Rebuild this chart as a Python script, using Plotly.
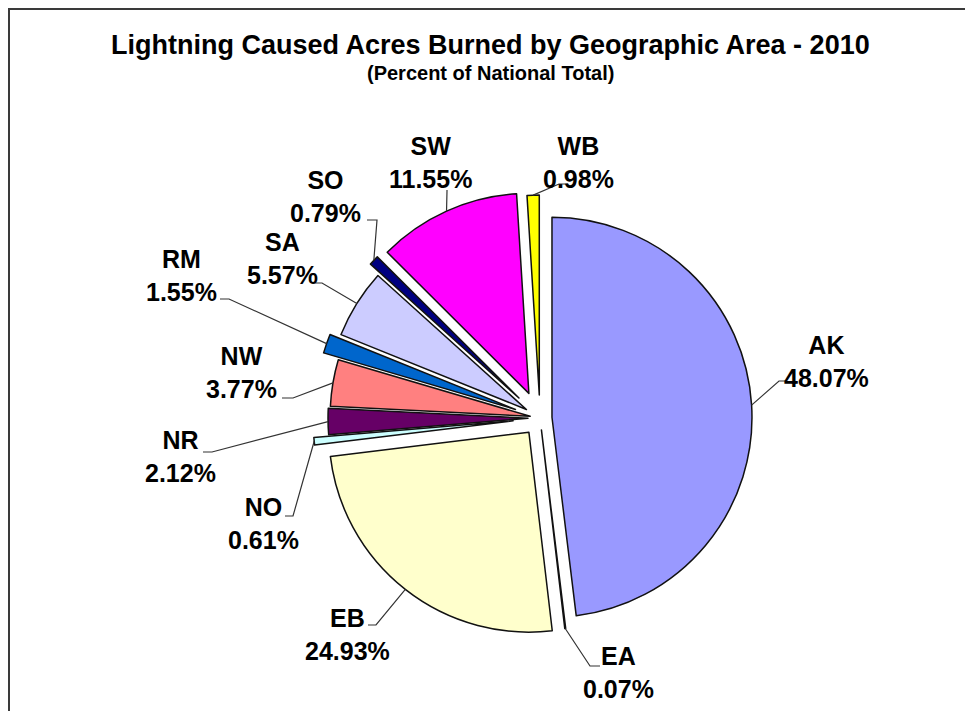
import math
import plotly.graph_objects as go

# ---------------- data ----------------
areas = ["AK", "EA", "EB", "NO", "NR", "NW", "RM", "SA", "SO", "SW", "WB"]
percents = [48.07, 0.07, 24.93, 0.61, 2.12, 3.77, 1.55, 5.57, 0.79, 11.55, 0.98]
title_text = "Lightning Caused Acres Burned by Geographic Area - 2010"
subtitle_text = "(Percent of National Total)"

# ---------------- style ----------------
colors = ["#9999FF", "#993366", "#FFFFCC", "#CCFFFF", "#660066", "#FF8080",
          "#0066CC", "#CCCCFF", "#000080", "#FF00FF", "#FFFF00"]
pulls = [0.06, 0.06, 0.09, 0.135, 0.06, 0.05, 0.13, 0.08, 0.145, 0.135, 0.115]

PAGE_OFF = 8            # default body margin of the html page
W, H = 973 - 2 * PAGE_OFF, 719 - 2 * PAGE_OFF   # avoid scrollbars
FONT = "Liberation Sans, Arial, sans-serif"

# pie geometry (page pixels)
cx_px, cy_px = 540, 418
box_px = 458
max_pull = max(pulls)
r_px = box_px / 2 / (1 + max_pull)

def px(x):
    return (x - PAGE_OFF) / W

def py(y):
    return 1 - (y - PAGE_OFF) / H

# label text centres (page pixels) and leader stub points (page pixels)
label_pos = {
    "AK": (826, 361), "EA": (618, 672), "EB": (347, 634), "NO": (263, 523),
    "NR": (180, 456), "NW": (241, 372), "RM": (181, 275), "SA": (282, 258),
    "SO": (325, 197), "SW": (430, 162), "WB": (578, 162),
}
stubs = {
    "AK": [(787, 381), (779, 381)], "EA": [(600, 666), (590, 666)],
    "EB": [(368, 625), (376, 625)], "NO": [(285, 516), (293, 516)],
    "NR": [(203, 452), (212, 452)], "NW": [(282, 398), (293, 398)],
    "RM": [(220, 299), (229, 299)], "SA": [(313, 283), (322, 283)],
    "SO": [(367, 220), (377, 220)], "SW": [(447, 190), (447, 191)],
    "WB": [(568, 184), (559, 184)],
}

fig = go.Figure()
fig.add_trace(go.Pie(
    labels=areas,
    values=percents,
    sort=False,
    direction="clockwise",
    rotation=0,
    pull=pulls,
    marker=dict(colors=colors, line=dict(color="#111111", width=1.5)),
    textinfo="none",
    hovertemplate="%{label}: %{value:.2f}%<extra></extra>",
    showlegend=False,
    domain=dict(
        x=[px(cx_px - box_px / 2), px(cx_px + box_px / 2)],
        y=[py(cy_px + box_px / 2), py(cy_px - box_px / 2)],
    ),
))

# leader lines + labels derived from slice angles
total = sum(percents)
cum = 0.0
shapes = []
annotations = []
for name, val, pull in zip(areas, percents, pulls):
    mid = (cum + val / 2) / total * 2 * math.pi
    cum += val
    dx, dy = math.sin(mid), -math.cos(mid)  # screen direction (y down)
    dist = r_px * (1 + pull)
    ax_, ay_ = cx_px + dist * dx, cy_px + dist * dy
    (s0x, s0y), (s1x, s1y) = stubs[name]
    path = (f"M {px(s0x)},{py(s0y)} L {px(s1x)},{py(s1y)} "
            f"L {px(ax_)},{py(ay_)}")
    shapes.append(dict(type="path", xref="paper", yref="paper", path=path,
                       line=dict(color="#333333", width=1.2)))
    lx, ly = label_pos[name]
    annotations.append(dict(
        x=px(lx), y=py(ly), xref="paper", yref="paper",
        text=f"<b>{name}<br>{val:.2f}%</b>", showarrow=False,
        xanchor="center", yanchor="middle", align="center",
        font=dict(family=FONT, size=25, color="#000000"),
    ))

# titles
annotations.append(dict(
    x=px(490), y=py(45), xref="paper", yref="paper",
    text=f"<b>{title_text}</b>", showarrow=False,
    xanchor="center", yanchor="middle",
    font=dict(family=FONT, size=27, color="#000000"),
))
annotations.append(dict(
    x=px(490), y=py(73), xref="paper", yref="paper",
    text=f"<b>{subtitle_text}</b>", showarrow=False,
    xanchor="center", yanchor="middle",
    font=dict(family=FONT, size=20, color="#000000"),
))

# chart frame (only top and left edges visible)
shapes.append(dict(type="path", xref="paper", yref="paper",
                   path=f"M 1.0,{py(9)} L {px(9)},{py(9)} L {px(9)},0",
                   line=dict(color="#3a3a3a", width=2)))

fig.update_layout(
    width=W, height=H, autosize=False,
    margin=dict(l=0, r=0, t=0, b=0),
    paper_bgcolor="white", plot_bgcolor="white",
    shapes=shapes, annotations=annotations,
)

fig.write_html("out.html")
